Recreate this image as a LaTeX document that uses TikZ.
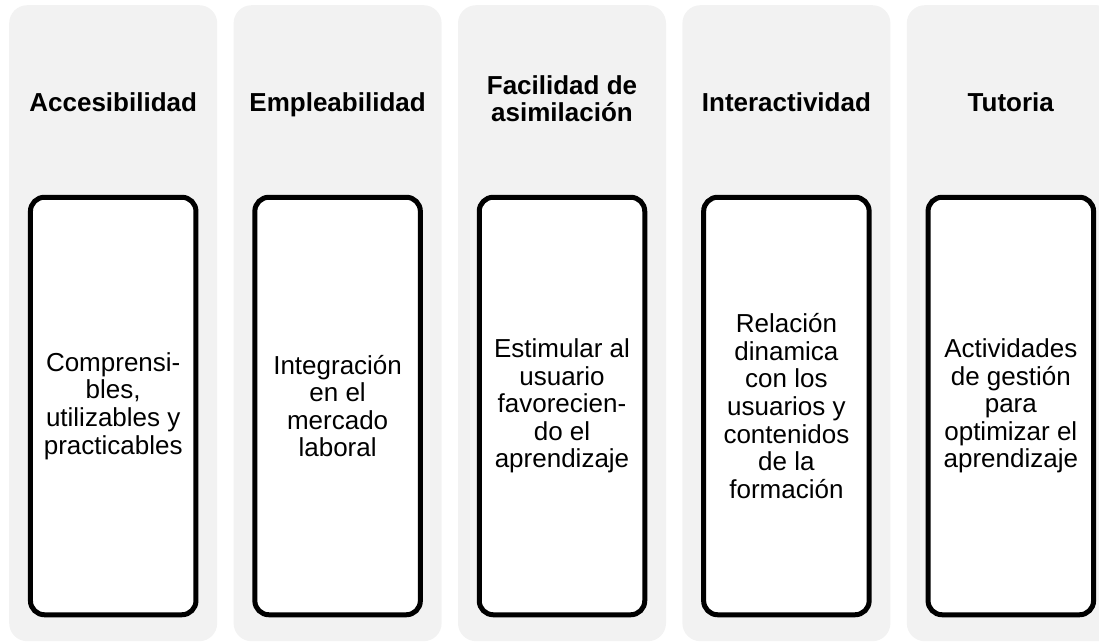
\documentclass[tikz,border=0pt]{standalone}
\usepackage{fontspec}
\setmainfont{Liberation Sans}
\usetikzlibrary{positioning}
\definecolor{panelgray}{HTML}{F2F2F2}

\begin{document}
\begin{tikzpicture}[
    col/.style={fill=panelgray,rectangle,rounded corners=18pt,minimum width=208pt,minimum height=636pt,inner sep=0pt},
    head/.style={align=center,anchor=base,font=\fontsize{26}{27}\selectfont\bfseries},
    cell/.style={draw,line width=5pt,fill=white,rectangle,rounded corners=14pt,minimum width=165.5pt,minimum height=417.5pt,align=center,inner sep=2pt,font=\fontsize{26}{27.6}\selectfont},
]

    \tikzset{
        node distance=16pt,
    }

    \useasboundingbox (0,0) rectangle (1099pt,-641pt);
    \clip (0,0) rectangle (1099pt,-641pt);

    % background columns
    \node[col,anchor=north west] (p1) at (9pt,-5pt) {};
    \node[col,right=of p1] (p2) {};
    \node[col,right=of p2] (p3) {};
    \node[col,right=of p3] (p4) {};
    \node[col,right=of p4] (p5) {};

    % headings
    \node[head] (h1) at ([yshift=-106pt]p1.north) {Accesibilidad};
    \node[head] (h2) at ([yshift=-106pt]p2.north) {Empleabilidad};
    \node[head] (h3) at ([yshift=-116pt]p3.north) {Facilidad de\\asimilación};
    \node[head] (h4) at ([yshift=-106pt]p4.north) {Interactividad};
    \node[head] (h5) at ([yshift=-106pt]p5.north) {Tutoria};

    % boxes
    \node[cell] (c1) at ([yshift=-401pt]p1.north) {Comprensi-\\bles,\\utilizables y\\practicables};
    \node[cell] (c2) at ([yshift=-401pt]p2.north) {Integración\\en el\\mercado\\laboral};
    \node[cell] (c3) at ([yshift=-401pt]p3.north) {Estimular al\\usuario\\favorecien-\\do el\\aprendizaje};
    \node[cell] (c4) at ([yshift=-401pt]p4.north) {Relación\\dinamica\\con los\\usuarios y\\contenidos\\de la\\formación};
    \node[cell] (c5) at ([yshift=-401pt]p5.north) {Actividades\\de gestión\\para\\optimizar el\\aprendizaje};

\end{tikzpicture}
\end{document}
